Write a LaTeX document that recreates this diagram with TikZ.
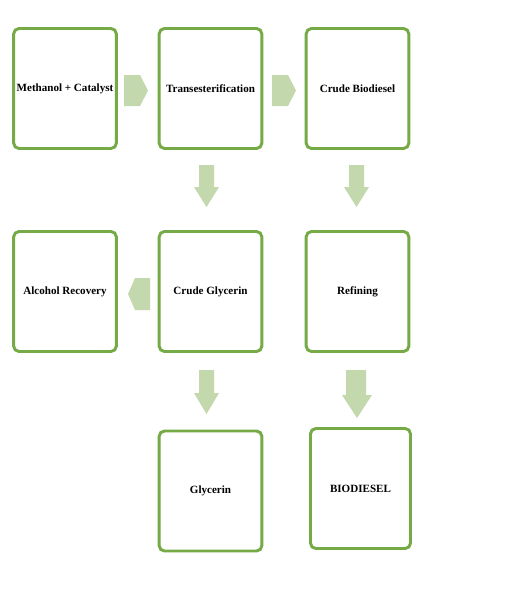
\documentclass[tikz,border=0pt]{standalone}
\usepackage{fontspec}
\setmainfont{Liberation Serif}
\usetikzlibrary{positioning}
\definecolor{boxgreen}{RGB}{118,170,70}
\definecolor{arrowfill}{RGB}{196,216,174}
\begin{document}
\begin{tikzpicture}[x=0.75pt,y=-0.75pt,
  procbox/.style={draw=boxgreen,line width=2.2pt,fill=white,rounded corners=4pt,
    minimum width=77pt,minimum height=90pt,inner sep=0pt,
    font=\fontsize{8.3}{9}\selectfont\bfseries},
  blockarrow/.style={fill=arrowfill,draw=none}]
\useasboundingbox (0,0) rectangle (526,608);
\fill[white] (0,0) rectangle (526,608);
% boxes
\node[procbox] (meth) at (65,88.5) {Methanol + Catalyst};
\node[procbox] (trans) at (210.5,88.5) {Transesterification};
\node[procbox] (crudebio) at (357.5,88.5) {Crude Biodiesel};
\node[procbox] (alc) at (65,291.5) {Alcohol Recovery};
\node[procbox] (crudegly) at (210.5,291.5) {Crude Glycerin};
\node[procbox] (ref) at (357.5,291.5) {Refining};
\node[procbox] (gly) at (210.5,491) {Glycerin};
\node[procbox,minimum width=75pt] (bio) at (360.5,488.5) {BIODIESEL};
% right arrows
\fill[blockarrow] (124,75) -- (140,75) -- (148,90.5) -- (140,106) -- (124,106) -- cycle;
\fill[blockarrow] (272,75) -- (288,75) -- (296,90.5) -- (288,106) -- (272,106) -- cycle;
% left arrow
\fill[blockarrow] (150,278) -- (135,278) -- (128,294) -- (135,310) -- (150,310) -- cycle;
% down arrows
\fill[blockarrow] (199,165) -- (214,165) -- (214,187) -- (219,187) -- (206.5,207) -- (194,187) -- (199,187) -- cycle;
\fill[blockarrow] (349,165) -- (364,165) -- (364,187) -- (369,187) -- (356.5,207) -- (344,187) -- (349,187) -- cycle;
\fill[blockarrow] (199,370) -- (214,370) -- (214,393) -- (219,393) -- (206.5,414) -- (194,393) -- (199,393) -- cycle;
\fill[blockarrow] (346,370) -- (366,370) -- (366,395) -- (372,395) -- (357,418) -- (342,395) -- (346,395) -- cycle;
\end{tikzpicture}
\end{document}
